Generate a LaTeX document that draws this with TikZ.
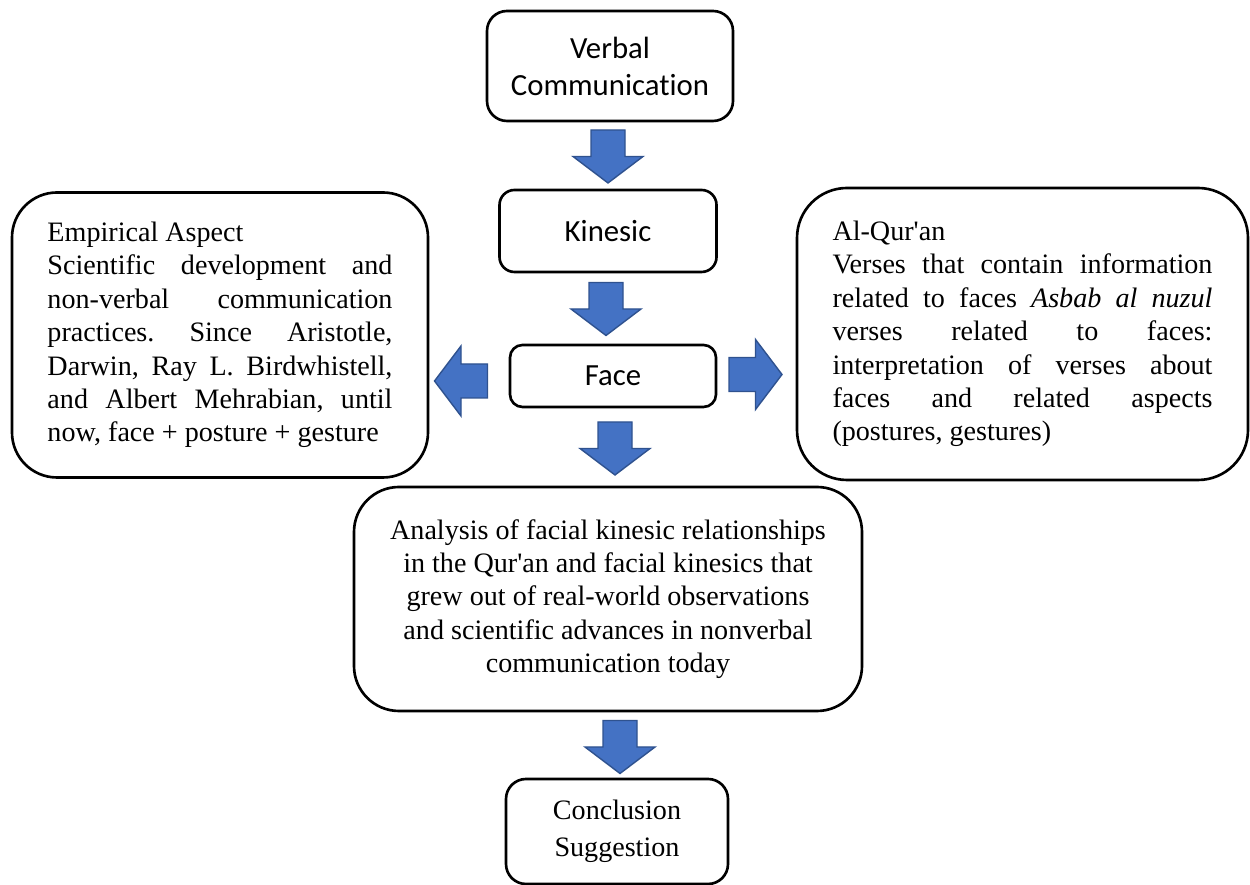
\documentclass[tikz,border=0pt]{standalone}
\usepackage{fontspec}
\setmainfont{Liberation Serif}
\newfontfamily\calibrifont[Ligatures=NoCommon]{Carlito}
\definecolor{arrowblue}{HTML}{4472C4}
\definecolor{arrowedge}{HTML}{2F528F}
\frenchspacing

\begin{document}
\begin{tikzpicture}
    \tikzstyle{every node}=[font=\fontsize{16}{19}\selectfont]
    \tikzstyle{box}=[draw, line width=1.5pt, inner sep=0pt, align=center]
    \tikzstyle{sansbox}=[box, font=\calibrifont\fontsize{17.5}{21}\selectfont]
    \tikzstyle{textbox}=[box, align=justify,
      execute at begin node={\tolerance=10000 \hbadness=10000 }]
    \tikzstyle{blockarrow}=[fill=arrowblue, draw=arrowedge, line width=0.8pt]
    % one block arrow, centred on #1 and turned by #2
    \def\blockarrow#1#2{%
      \draw[blockarrow, shift={(#1)}, rotate=#2]
        (-0.53,-0.34) -- (0,-0.34) -- (0,-0.7) -- (0.53,0) -- (0,0.7)
        -- (0,0.34) -- (-0.53,0.34) -- cycle;}
    \def\q{\textquotesingle}
    \useasboundingbox (0,0) rectangle (25,17.7);

    % centre column
    \node[sansbox, rounded corners=0.4cm, minimum width=4.92cm, minimum height=2.2cm]
      (verbal) at (12.2,16.38) {Verbal\\Communication};
    \node[sansbox, rounded corners=0.3cm, minimum width=4.34cm, minimum height=1.64cm]
      (kinesic) at (12.16,13.08) {Kinesic};
    \node[sansbox, rounded corners=0.25cm, minimum width=4.12cm, minimum height=1.24cm]
      (face) at (12.26,10.18) {Face};
    \node[box, rounded corners=0.9cm, minimum width=10.16cm, minimum height=4.48cm]
      (analysis) at (12.16,5.72) {Analysis of facial kinesic relationships\\
      in the Qur\q an and facial kinesics that\\
      grew out of real-world observations\\
      and scientific advances in nonverbal\\
      communication today};
    \node[box, rounded corners=0.4cm, minimum width=4.44cm, minimum height=2.1cm,
      font=\fontsize{16}{21}\selectfont]
      (conclusion) at (12.34,1.07) {Conclusion\\Suggestion};

    % the two sides
    \node[textbox, rounded corners=0.9cm, text width=6.9cm,
      minimum width=8.32cm, minimum height=5.7cm]
      (empirical) at (4.4,11.0) {Empirical Aspect\\
      Scientific development and\linebreak
      non-verbal communication\linebreak
      practices. Since Aristotle,\linebreak
      Darwin, Ray L. Birdwhistell,\linebreak
      and Albert Mehrabian, until\linebreak
      now, face + posture + gesture};
    \node[textbox, rounded corners=1cm, text width=7.6cm,
      minimum width=9.02cm, minimum height=5.84cm]
      (quran) at (20.45,11.02) {Al-Qur\q an\\
      Verses that contain information\linebreak
      related to faces \textit{Asbab al nuzul}\linebreak
      verses related to faces:\linebreak
      interpretation of verses about\linebreak
      faces and related aspects\linebreak
      (postures, gestures)\hfill\null};

    % block arrows
    \coordinate (a1) at (12.16,14.57);
    \coordinate (a2) at (12.12,11.52);
    \coordinate (a3) at (12.30,8.73);
    \coordinate (aleft) at (9.22,10.08);
    \coordinate (aright) at (15.11,10.21);
    \coordinate (a4) at (12.40,2.76);
    \blockarrow{a1}{-90}
    \blockarrow{a2}{-90}
    \blockarrow{a3}{-90}
    \blockarrow{aleft}{180}
    \blockarrow{aright}{0}
    \blockarrow{a4}{-90}
\end{tikzpicture}
\end{document}
